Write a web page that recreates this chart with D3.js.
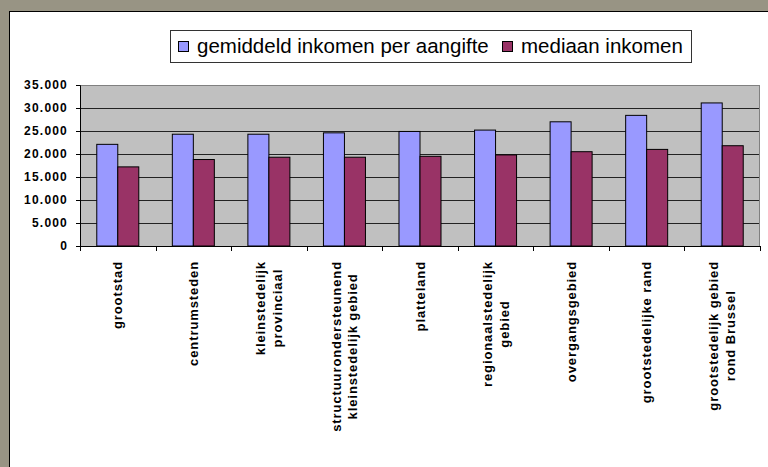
<!DOCTYPE html>
<html>
<head>
<meta charset="utf-8">
<script src="https://cdn.jsdelivr.net/npm/d3@7"></script>
<style>
  body { margin: 0; background: #989484; }
  svg { display: block; }
</style>
</head>
<body>
<div class="graph"></div>
<script>
// data
const categories = [
  "grootstad",
  "centrumsteden",
  "kleinstedelijk\nprovinciaal",
  "structuurondersteunend\nkleinstedelijk gebied",
  "platteland",
  "regionaalstedelijk\ngebied",
  "overgangsgebied",
  "grootstedelijke rand",
  "grootstedelijk gebied\nrond Brussel"
];
const seriesNames = ["gemiddeld inkomen per aangifte", "mediaan inkomen"];
const gemiddeld = [22100, 24300, 24300, 24600, 24900, 25200, 27000, 28400, 31100];
const mediaan = [17200, 18800, 19300, 19300, 19500, 19800, 20500, 21000, 21800];
const yTicks = [0, 5000, 10000, 15000, 20000, 25000, 30000, 35000];
const colors = ["#9999ff", "#993366"];

const W = 768, H = 467;
const margin = {top: 85, left: 80};
const width = 680, height = 161;

const svg = d3.select(".graph").append("svg")
  .attr("width", W)
  .attr("height", H);

// white chart panel
svg.append("rect")
  .attr("x", 9.5).attr("y", 11.5)
  .attr("width", W + 20).attr("height", H + 20)
  .attr("fill", "#fff")
  .attr("stroke", "#000");

const x0 = d3.scaleBand().domain(d3.range(categories.length)).range([0, width]).paddingInner(0.444).paddingOuter(0.222);
const xOuter = d3.scaleBand().domain(d3.range(categories.length)).range([0, width]);
const x1 = d3.scaleBand().domain([0, 1]).range([0, x0.bandwidth()]);
const y = d3.scaleLinear().domain([0, 35000]).range([height, 0]);

const g = svg.append("g")
  .attr("transform", "translate(" + margin.left + "," + margin.top + ")");

g.append("rect")
  .attr("width", width).attr("height", height)
  .attr("fill", "#c0c0c0");

// gridlines
g.selectAll(".grid")
  .data(yTicks.filter(d => d > 0))
  .enter().append("line")
    .attr("x1", 0).attr("x2", width)
    .attr("y1", d => Math.round(y(d)) + 0.5)
    .attr("y2", d => Math.round(y(d)) + 0.5)
    .attr("stroke", d => d === 35000 ? "#808080" : "#222")
    .attr("stroke-width", 1);

g.append("line")
  .attr("x1", width - 0.5).attr("x2", width - 0.5)
  .attr("y1", 0).attr("y2", height)
  .attr("stroke", "#808080");

// bars
const series = [gemiddeld, mediaan];
series.forEach((vals, s) => {
  g.selectAll(".bar" + s)
    .data(vals)
    .enter().append("rect")
      .attr("x", (d, i) => x0(i) + x1(s))
      .attr("y", d => y(d))
      .attr("width", x1.bandwidth())
      .attr("height", d => height - y(d))
      .attr("fill", colors[s])
      .attr("stroke", "#000")
      .attr("stroke-width", 1);
});

// y axis
const yAxis = d3.axisLeft(y)
  .tickValues(yTicks)
  .tickSize(4)
  .tickPadding(8)
  .tickFormat(d => d === 0 ? "0" : d3.format(",")(d).replace(",", "."));

const gy = g.append("g").call(yAxis);
gy.select(".domain").attr("stroke", "#000");
gy.selectAll(".tick line").attr("stroke", "#000");
gy.selectAll(".tick text")
  .attr("font-family", "Liberation Sans, Arial, sans-serif")
  .attr("font-size", 12)
  .attr("font-weight", "bold")
  .attr("letter-spacing", "1.2px")
  .attr("fill", "#000");

// x axis line and ticks
g.append("line")
  .attr("x1", 0).attr("x2", width)
  .attr("y1", height + 0.5).attr("y2", height + 0.5)
  .attr("stroke", "#000");

g.selectAll(".xtick")
  .data(d3.range(categories.length + 1))
  .enter().append("line")
    .attr("x1", d => Math.round(d * xOuter.step()) + 0.5)
    .attr("x2", d => Math.round(d * xOuter.step()) + 0.5)
    .attr("y1", height).attr("y2", height + 5)
    .attr("stroke", "#000");

// category labels, rotated
const lineGap = 17;
const labels = g.selectAll(".cat")
  .data(categories)
  .enter().append("g")
    .attr("transform", (d, i) => "translate(" + (xOuter(i) + xOuter.bandwidth() / 2) + "," + (height + 15) + ") rotate(-90)");

labels.each(function(d) {
  const lines = d.split("\n");
  const sel = d3.select(this);
  const texts = lines.map((t, k) => sel.append("text")
    .attr("y", (k - (lines.length - 1) / 2) * lineGap)
    .attr("dy", "0.35em")
    .attr("text-anchor", "middle")
    .attr("font-family", "Liberation Sans, Arial, sans-serif")
    .attr("font-size", 13)
    .attr("font-weight", "bold")
    .attr("letter-spacing", "0.9px")
    .attr("fill", "#000")
    .text(t));
  const maxW = d3.max(texts, t => t.node().getComputedTextLength());
  texts.forEach(t => t.attr("x", -maxW / 2));
});

// legend
const legend = svg.append("g");
legend.append("rect")
  .attr("x", 170.5).attr("y", 30.5)
  .attr("width", 521).attr("height", 32)
  .attr("fill", "#fff")
  .attr("stroke", "#333");

const legendItems = [
  {name: seriesNames[0], x: 178, tx: 197},
  {name: seriesNames[1], x: 502, tx: 521}
];
legendItems.forEach((it, i) => {
  legend.append("rect")
    .attr("x", it.x + 0.5).attr("y", 41.5)
    .attr("width", 10).attr("height", 10)
    .attr("fill", colors[i])
    .attr("stroke", "#000");
  legend.append("text")
    .attr("x", it.tx).attr("y", 53)
    .attr("font-family", "Liberation Sans, Arial, sans-serif")
    .attr("font-size", 20.5)
    .attr("fill", "#000")
    .text(it.name);
});
</script>
</body>
</html>
